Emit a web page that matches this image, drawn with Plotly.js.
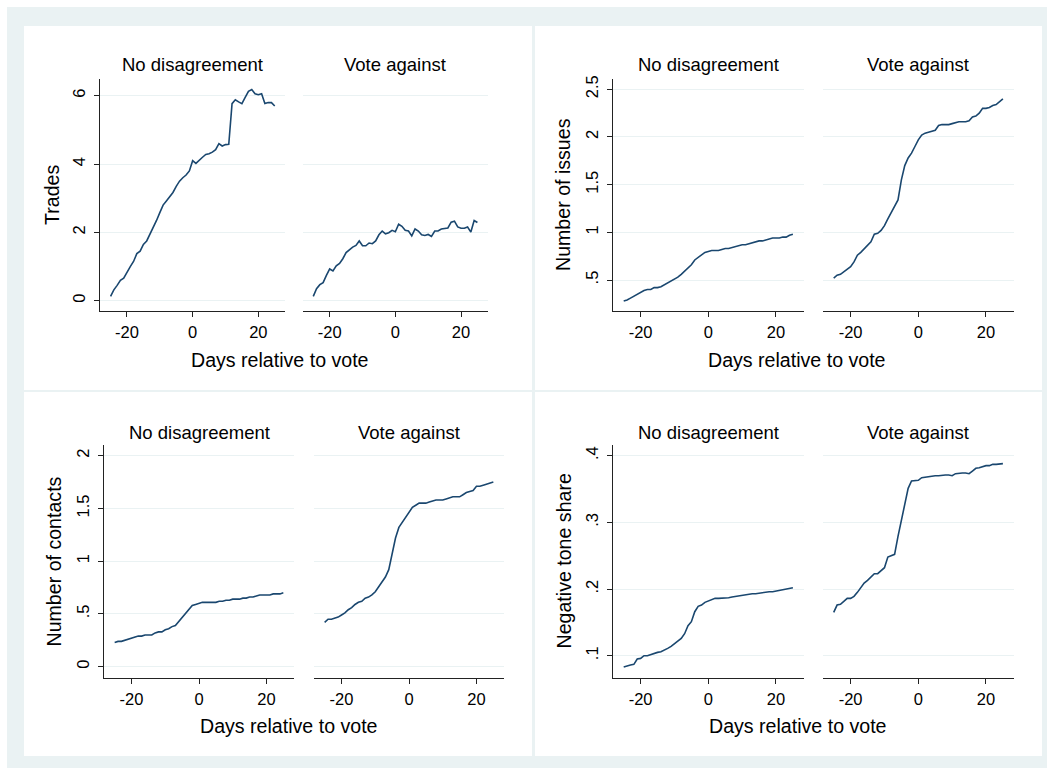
<!DOCTYPE html>
<html><head><meta charset="utf-8">
<script src="https://cdn.plot.ly/plotly-3.0.1.min.js"></script>
<style>html,body{margin:0;padding:0;background:#fff;}#chart{width:1047px;height:768px;}</style>
</head><body><div id="chart"></div>
<script>
// ---- data ----
const days = [-25,-24,-23,-22,-21,-20,-19,-18,-17,-16,-15,-14,-13,-12,-11,-10,-9,-8,-7,-6,-5,-4,-3,-2,-1,0,1,2,3,4,5,6,7,8,9,10,11,12,13,14,15,16,17,18,19,20,21,22,23,24,25];
const facetNames = ["No disagreement", "Vote against"];
const xTitle = "Days relative to vote";
const xTickVals = [-20, 0, 20];
const xTickText = ["-20", "0", "20"];

const tradesNoDis = [0.13,0.32,0.45,0.60,0.66,0.85,1.00,1.15,1.38,1.45,1.65,1.75,1.95,2.10,2.35,2.58,2.80,2.92,3.03,3.17,3.35,3.50,3.60,3.68,3.80,4.10,4.02,4.12,4.20,4.28,4.30,4.35,4.42,4.60,4.53,4.57,4.58,5.77,5.88,5.82,5.77,5.95,6.13,6.18,6.06,6.03,6.06,5.77,5.80,5.80,5.70];
const tradesVote = [0.13,0.35,0.47,0.53,0.74,0.93,0.87,1.02,1.09,1.23,1.41,1.49,1.57,1.62,1.75,1.61,1.61,1.69,1.67,1.75,1.93,2.04,1.96,1.99,2.06,2.02,2.24,2.18,2.06,2.04,1.90,2.10,2.04,1.93,1.91,1.94,1.88,2.04,2.04,2.10,2.11,2.13,2.30,2.33,2.16,2.12,2.12,2.16,2.01,2.35,2.29];
const issuesNoDis = [0.28,0.29,0.31,0.33,0.35,0.37,0.39,0.40,0.40,0.42,0.42,0.43,0.45,0.47,0.49,0.51,0.53,0.56,0.59,0.62,0.66,0.71,0.74,0.77,0.79,0.80,0.81,0.81,0.81,0.82,0.83,0.83,0.84,0.85,0.86,0.87,0.87,0.88,0.89,0.90,0.91,0.91,0.92,0.93,0.94,0.94,0.94,0.95,0.95,0.97,0.98];
const issuesVote = [0.52,0.55,0.56,0.59,0.62,0.64,0.69,0.76,0.79,0.83,0.86,0.90,0.98,0.99,1.02,1.07,1.14,1.21,1.27,1.34,1.55,1.70,1.78,1.83,1.90,1.97,2.02,2.04,2.05,2.06,2.07,2.12,2.13,2.13,2.13,2.14,2.15,2.16,2.16,2.16,2.17,2.21,2.22,2.25,2.30,2.30,2.31,2.33,2.34,2.37,2.40];
const contactsNoDis = [0.23,0.24,0.24,0.25,0.26,0.27,0.28,0.29,0.29,0.30,0.30,0.30,0.32,0.33,0.33,0.35,0.36,0.38,0.39,0.43,0.46,0.51,0.55,0.58,0.59,0.60,0.61,0.61,0.61,0.61,0.61,0.62,0.62,0.63,0.63,0.64,0.64,0.64,0.65,0.65,0.66,0.66,0.67,0.68,0.68,0.68,0.68,0.69,0.69,0.69,0.70];
const contactsVote = [0.42,0.45,0.45,0.46,0.47,0.49,0.51,0.54,0.56,0.59,0.61,0.62,0.65,0.66,0.68,0.71,0.76,0.80,0.85,0.92,1.07,1.22,1.32,1.37,1.42,1.47,1.51,1.53,1.55,1.55,1.55,1.56,1.57,1.58,1.58,1.58,1.59,1.60,1.61,1.61,1.61,1.63,1.65,1.66,1.67,1.71,1.71,1.72,1.73,1.74,1.75];
const toneNoDis = [0.083,0.085,0.086,0.087,0.095,0.096,0.100,0.100,0.102,0.104,0.105,0.106,0.108,0.111,0.114,0.118,0.122,0.126,0.133,0.145,0.151,0.166,0.174,0.176,0.180,0.182,0.185,0.186,0.186,0.186,0.186,0.187,0.188,0.189,0.190,0.191,0.192,0.192,0.193,0.193,0.194,0.195,0.195,0.196,0.196,0.197,0.198,0.198,0.199,0.200,0.202];
const toneVote = [0.165,0.176,0.177,0.181,0.186,0.186,0.189,0.195,0.202,0.209,0.213,0.218,0.223,0.223,0.228,0.232,0.248,0.250,0.252,0.279,0.304,0.331,0.351,0.362,0.363,0.363,0.367,0.368,0.369,0.370,0.370,0.370,0.371,0.371,0.371,0.370,0.373,0.374,0.374,0.374,0.373,0.377,0.381,0.382,0.384,0.385,0.385,0.387,0.387,0.388,0.388];

const yTitles = ["Trades", "Number of issues", "Number of contacts", "Negative tone share"];
const tradesTicks = [0, 2, 4, 6];          const tradesTickText = ["0", "2", "4", "6"];
const issuesTicks = [0.5, 1, 1.5, 2, 2.5]; const issuesTickText = [".5", "1", "1.5", "2", "2.5"];
const contactsTicks = [0, 0.5, 1, 1.5, 2]; const contactsTickText = ["0", ".5", "1", "1.5", "2"];
const toneTicks = [0.1, 0.2, 0.3, 0.4];    const toneTickText = [".1", ".2", ".3", ".4"];

// ---- layout geometry (pixels) ----
const W = 1047, H = 768;
const px = v => v / W, py = v => 1 - v / H;
const panels = [
  {series: [tradesNoDis, tradesVote], yt: yTitles[0], tv: tradesTicks, tt: tradesTickText, yr: [-0.30, 6.49],
   f1: [99.9, 285.4], f2: [302.6, 488.1], top: 79, bot: 311, ftY: 65, xtX: 280, xtY: 360, ytX: 52, box: [24, 26, 532, 390]},
  {series: [issuesNoDis, issuesVote], yt: yTitles[1], tv: issuesTicks, tt: issuesTickText, yr: [0.175, 2.608],
   f1: [612.7, 803.9], f2: [822.7, 1013.9], top: 79, bot: 311, ftY: 65, xtX: 797, xtY: 360, ytX: 563, box: [535, 26, 1042, 390]},
  {series: [contactsNoDis, contactsVote], yt: yTitles[2], tv: contactsTicks, tt: contactsTickText, yr: [-0.107, 2.101],
   f1: [103.7, 294.3], f2: [313.7, 504.3], top: 445, bot: 678, ftY: 432, xtX: 289, xtY: 726, ytX: 53, box: [24, 392, 532, 756]},
  {series: [toneNoDis, toneVote], yt: yTitles[3], tv: toneTicks, tt: toneTickText, yr: [0.0666, 0.416],
   f1: [612.7, 803.9], f2: [822.7, 1013.9], top: 445, bot: 678, ftY: 432, xtX: 798, xtY: 726, ytX: 563, box: [535, 392, 1042, 756]}
];

const FONT = "Liberation Sans, Arial, Helvetica, sans-serif";
const NAVY = "#1a476f", GRID = "#eaf2f3", BG = "#eaf2f3", AX = "#222222";

const traces = [];
const layout = {
  width: W, height: H, margin: {l: 0, r: 0, t: 0, b: 0},
  paper_bgcolor: "#ffffff", plot_bgcolor: "rgba(0,0,0,0)",
  showlegend: false, hovermode: false,
  font: {family: FONT, color: "#000", size: 16},
  shapes: [
    {type: "rect", xref: "paper", yref: "paper", x0: px(7), x1: 1, y0: 0, y1: py(7), fillcolor: BG, line: {width: 0}, layer: "below"}
  ],
  annotations: []
};

panels.forEach((p, pi) => {
  layout.shapes.push({type: "rect", xref: "paper", yref: "paper", x0: px(p.box[0]), x1: px(p.box[2]),
    y0: py(p.box[3]), y1: py(p.box[1]), fillcolor: "#ffffff", line: {width: 0}, layer: "below"});
  [p.f1, p.f2].forEach((fx, fi) => {
    const idx = pi * 2 + fi + 1;
    const xa = idx === 1 ? "xaxis" : "xaxis" + idx;
    const ya = idx === 1 ? "yaxis" : "yaxis" + idx;
    const xs = idx === 1 ? "x" : "x" + idx;
    const ys = idx === 1 ? "y" : "y" + idx;
    traces.push({x: days, y: p.series[fi], xaxis: xs, yaxis: ys, type: "scatter", mode: "lines",
      line: {color: NAVY, width: 1.6}});
    layout[xa] = {domain: [px(fx[0]), px(fx[1])], anchor: ys, range: [-28.25, 28.25],
      tickmode: "array", tickvals: xTickVals, ticktext: xTickText, ticks: "outside", ticklen: 5, tickwidth: 1,
      tickcolor: AX, showline: true, linecolor: AX, linewidth: 1, showgrid: false, zeroline: false,
      ticklabelstandoff: 1, tickfont: {size: 16.5, family: FONT, color: "#000"}, fixedrange: true};
    const yax = {domain: [py(p.bot), py(p.top)], anchor: xs, range: p.yr, tickmode: "array", tickvals: p.tv,
      ticktext: p.tt, showgrid: true, gridcolor: GRID, gridwidth: 1, zeroline: false, fixedrange: true};
    if (fi === 0) {
      Object.assign(yax, {showline: true, linecolor: AX, linewidth: 1, ticks: "outside", ticklen: 5, tickwidth: 1,
        tickcolor: AX, tickangle: -90, ticklabelstandoff: 2, showticklabels: true,
        tickfont: {size: 16.5, family: FONT, color: "#000"}});
    } else {
      Object.assign(yax, {showline: false, ticks: "", showticklabels: false});
    }
    layout[ya] = yax;
    layout.annotations.push({text: facetNames[fi], xref: "paper", yref: "paper", x: px((fx[0] + fx[1]) / 2),
      y: py(p.ftY), xanchor: "center", yanchor: "middle", showarrow: false, font: {size: 18.5, family: FONT, color: "#000"}});
  });
  layout.annotations.push({text: xTitle, xref: "paper", yref: "paper", x: px(p.xtX), y: py(p.xtY),
    xanchor: "center", yanchor: "middle", showarrow: false, font: {size: 19.6, family: FONT, color: "#000"}});
  layout.annotations.push({text: p.yt, xref: "paper", yref: "paper", x: px(p.ytX), y: py((p.top + p.bot) / 2),
    xanchor: "center", yanchor: "middle", textangle: -90, showarrow: false, font: {size: 19.6, family: FONT, color: "#000"}});
});

Plotly.newPlot("chart", traces, layout, {staticPlot: true, displayModeBar: false});
</script></body></html>
